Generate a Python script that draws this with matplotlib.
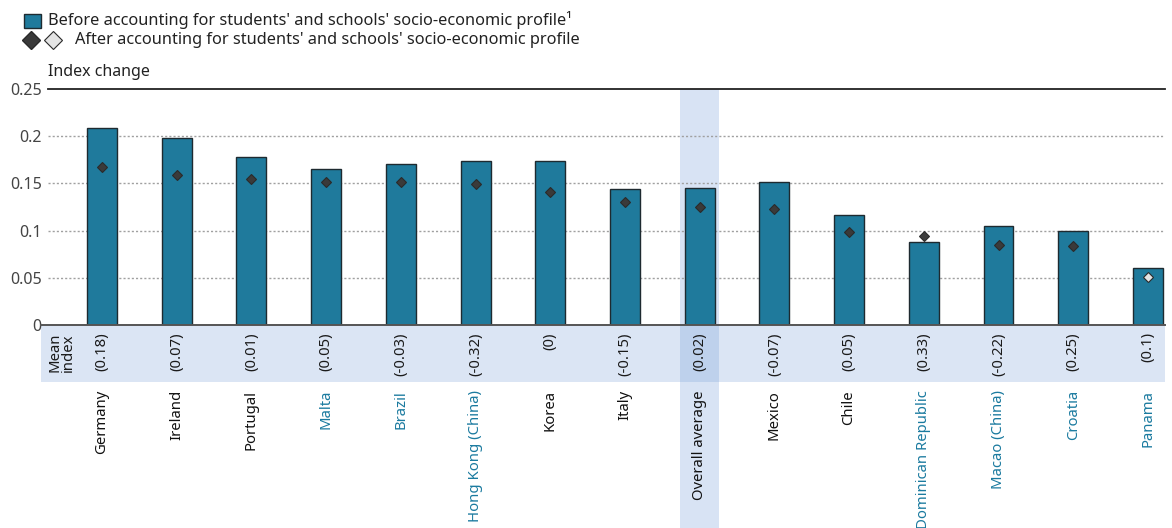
import matplotlib
matplotlib.use("Agg")
import matplotlib.pyplot as plt
from matplotlib.patches import Rectangle
from matplotlib.lines import Line2D
from matplotlib.transforms import blended_transform_factory

plt.rcParams['font.family'] = ['Noto Sans', 'DejaVu Sans']

categories = ["Germany", "Ireland", "Portugal", "Malta", "Brazil", "Hong Kong (China)",
              "Korea", "Italy", "Overall average", "Mexico", "Chile",
              "Dominican Republic", "Macao (China)", "Croatia", "Panama"]
before = [0.209, 0.198, 0.178, 0.165, 0.171, 0.174, 0.174, 0.144, 0.145, 0.152,
          0.116, 0.088, 0.105, 0.100, 0.060]
after = [0.167, 0.159, 0.155, 0.152, 0.151, 0.149, 0.141, 0.130, 0.125, 0.123,
         0.099, 0.094, 0.085, 0.084, 0.051]
after_significant = [True] * 14 + [False]
mean_index = ["(0.18)", "(0.07)", "(0.01)", "(0.05)", "(-0.03)", "(-0.32)", "(0)",
              "(-0.15)", "(0.02)", "(-0.07)", "(0.05)", "(0.33)", "(-0.22)", "(0.25)", "(0.1)"]
partner = ["Malta", "Brazil", "Hong Kong (China)", "Dominican Republic",
           "Macao (China)", "Croatia", "Panama"]
yticks = [0, 0.05, 0.1, 0.15, 0.2, 0.25]
ytick_labels = ["0", "0.05", "0.1", "0.15", "0.2", "0.25"]

W, H = 1172, 528
fig = plt.figure(figsize=(W / 100, H / 100), dpi=100)

def fy(py):
    return 1 - py / H

ax_left, ax_right, ax_top, ax_bot = 48, 1165, 89, 325
ax = fig.add_axes([ax_left / W, fy(ax_bot), (ax_right - ax_left) / W, (ax_bot - ax_top) / H])
ax.set_xlim(-0.723, 14.228)
ax.set_ylim(0, 0.25)
for s in ax.spines.values():
    s.set_visible(False)

bar_color = "#1f7a9c"
text_teal = "#1a7a9f"
x = list(range(len(categories)))

oi = categories.index("Overall average")
tr_fig = fig.transFigure
tr_hl = blended_transform_factory(ax.transData, fig.transFigure)
band_left = 41
band_top, band_bot = 325, 382
ax.add_patch(Rectangle((band_left / W, fy(band_bot)), (ax_right - band_left) / W,
                       (band_bot - band_top) / H, transform=tr_fig, facecolor="#dbe5f4",
                       edgecolor="none", clip_on=False, zorder=0))
hw = 0.26
ax.add_patch(Rectangle((oi - hw, fy(ax_bot)), 2 * hw, (ax_bot - ax_top) / H,
                       transform=tr_hl, facecolor="#d8e3f4", edgecolor="none",
                       clip_on=False, zorder=0.1))
ax.add_patch(Rectangle((oi - hw, fy(band_bot)), 2 * hw, (band_bot - band_top) / H,
                       transform=tr_hl, facecolor="#bed1ec", edgecolor="none",
                       clip_on=False, zorder=0.1))
ax.add_patch(Rectangle((oi - hw, 0), 2 * hw, fy(band_bot),
                       transform=tr_hl, facecolor="#d8e3f4", edgecolor="none",
                       clip_on=False, zorder=0.1))

for v in yticks[1:-1]:
    ax.axhline(v, color="#a0a0a0", lw=1, ls=(0, (1.5, 1.5)), zorder=0.5)
ax.axhline(0.25, color="#222222", lw=1.3, zorder=0.5, clip_on=False)

ax.bar(x, before, width=0.4, color=bar_color, edgecolor="#1e2a30", linewidth=1, zorder=2)
fig.add_artist(Line2D([band_left / W, ax_right / W], [fy(ax_bot), fy(ax_bot)],
                      transform=tr_fig, color="#555555", lw=1.4, zorder=3))

for xi, v, sig in zip(x, after, after_significant):
    ax.plot(xi, v, marker="D", markersize=5.5, color="#3a3a3a" if sig else "#e4e4e4",
            markeredgecolor="#2a2a2a", markeredgewidth=0.8, zorder=4, linestyle="none")

ax.set_yticks(yticks)
ax.set_yticklabels(ytick_labels, fontsize=11.5, color="#444444")
ax.tick_params(axis="y", length=0, pad=4.5)
ax.set_xticks([])

for xi, lab in zip(x, mean_index):
    ax.text(xi, fy(332), lab, transform=tr_hl, rotation=90, ha="center", va="top",
            fontsize=10.7, color="#1a1a1a")
fig.text(62 / W, fy(333), "Mean\nindex", rotation=90, ha="center", va="top",
         fontsize=10.7, color="#1a1a1a", linespacing=0.85)

for xi, lab in zip(x, categories):
    col = text_teal if lab in partner else "#111111"
    ax.text(xi, fy(390), lab, transform=tr_hl, rotation=90, ha="center", va="top",
            fontsize=10.7, color=col, fontweight="bold" if lab == "Overall average" else "normal")

fig.text(48 / W, fy(72), "Index change", fontsize=11.5, color="#222222", va="center", ha="left")

fig.add_artist(Rectangle((24 / W, fy(27.5)), 17 / W, 13 / H, transform=tr_fig,
                         facecolor=bar_color, edgecolor="#1e2a30", linewidth=1))
fig.text(48 / W, fy(20), "Before accounting for students' and schools' socio-economic profile\u00b9",
         fontsize=11.75, color="#222222", va="center", ha="left")
fig.add_artist(Line2D([31 / W], [fy(39.5)], transform=tr_fig, marker="D", markersize=9,
                      color="#3a3a3a", markeredgecolor="#2a2a2a", linestyle="none"))
fig.add_artist(Line2D([53 / W], [fy(39.5)], transform=tr_fig, marker="D", markersize=9,
                      color="#e4e4e4", markeredgecolor="#2a2a2a", markeredgewidth=0.8,
                      linestyle="none"))
fig.text(75 / W, fy(40), "After accounting for students' and schools' socio-economic profile",
         fontsize=11.75, color="#222222", va="center", ha="left")

fig.savefig("out.png", dpi=100)
